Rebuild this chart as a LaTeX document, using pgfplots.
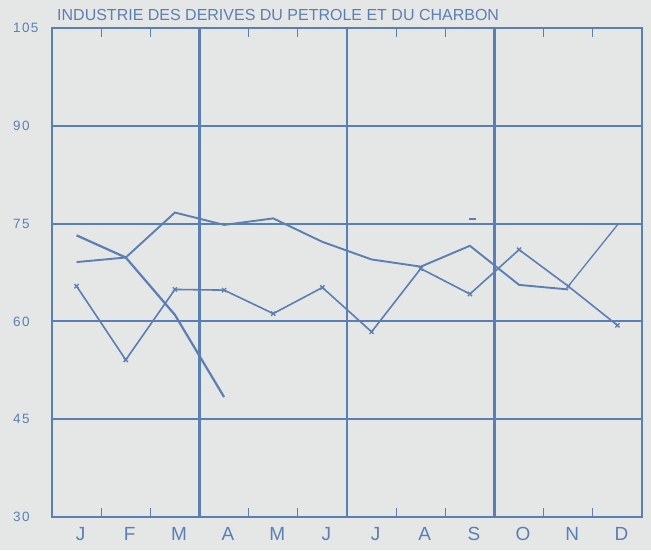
\documentclass[border=0pt]{standalone}
\usepackage{fontspec}
\setmainfont{Liberation Sans}
\usepackage{pgfplots}
\pgfplotsset{compat=1.18}
\definecolor{ink}{HTML}{5B7FB4}
\definecolor{paper}{HTML}{E5E7E6}
\begin{document}
\begin{tikzpicture}
% page background, axis box sits at (0,0)
\fill[paper] (-52pt,-33pt) rectangle (599pt,517pt);
\path[use as bounding box] (-52pt,-33pt) rectangle (599pt,517pt);
\begin{axis}[
    scale only axis,
    width=590pt, height=489pt,
    xmin=0.5, xmax=12.5,
    ymin=30, ymax=105,
    axis line style={ink, line width=1.6pt},
    xtick={1,...,12},
    xticklabels={J,F,M,A,M,J,J,A,S,O,N,D},
    xticklabel style={font=\fontsize{19}{19}\selectfont, text=ink, inner sep=0pt, anchor=north, yshift=-10pt, xshift=4pt},
    minor xtick={1.5,2.5,4.5,5.5,7.5,8.5,10.5,11.5},
    minor tick length=9pt,
    major tick length=0pt,
    tick align=inside,
    xtick pos=both,
    ytick pos=left,
    tick style={ink, line width=1.1pt},
    extra x ticks={3.5,6.5,9.5},
    extra x tick labels={},
    extra x tick style={grid=major},
    ytick={30,45,...,105},
    ymajorgrids,
    grid style={ink, line width=2.1pt},
    yticklabel style={font=\fontsize{13.5}{13.5}\selectfont\addfontfeature{LetterSpace=10}, text=ink, inner sep=0pt, anchor=west, xshift=-39pt},
    /pgf/number format/assume math mode=true,
    clip=false,
]
\addplot[ink, line width=2.2pt] coordinates {
    (1,73.2) (2,69.8) (3,61.0) (4,48.4)
};
\addplot[ink, line width=1.9pt] coordinates {
    (1,69.1) (2,69.8) (3,76.7) (4,74.8) (5,75.8) (6,72.2)
    (7,69.5) (8,68.4) (9,71.6) (10,65.6) (11,64.9)
};
\addplot[ink, line width=1.3pt] coordinates {
    (11,65.4) (12,74.8)
};
\addplot[ink, line width=1.6pt, mark=x, mark size=3pt, mark options={line width=1.3pt}] coordinates {
    (1,65.4) (2,54.1) (3,64.9) (4,64.8) (5,61.2) (6,65.2)
    (7,58.4) (8,68.1) (9,64.2) (10,71.0) (11,65.4) (12,59.4)
};
\addplot[ink, only marks, mark=-, mark size=3.5pt, mark options={line width=1.5pt}] coordinates {
    (9.05,75.7)
};
\node[anchor=base west, inner sep=0pt, text=ink, font=\fontsize{16}{16}\selectfont]
    at (rel axis cs:0,1) [xshift=5pt, yshift=7.5pt] {INDUSTRIE DES DERIVES DU PETROLE ET DU CHARBON};
\end{axis}
\end{tikzpicture}
\end{document}
